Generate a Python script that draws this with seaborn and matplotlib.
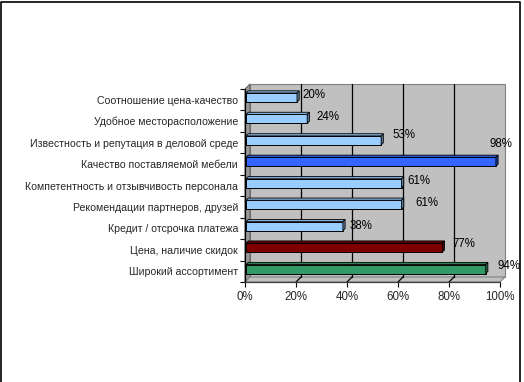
import numpy as np
import pandas as pd
import matplotlib
matplotlib.use('Agg')
import matplotlib.pyplot as plt
import matplotlib.ticker as mtick
from matplotlib.patches import Polygon, Rectangle
from matplotlib.lines import Line2D
import seaborn as sns

categories = ['Соотношение цена-качество',
              'Удобное месторасположение',
              'Известность и репутация в деловой среде',
              'Качество поставляемой мебели',
              'Компетентность и отзывчивость персонала',
              'Рекомендации партнеров, друзей',
              'Кредит / отсрочка платежа',
              'Цена, наличие скидок',
              'Широкий ассортимент']
values = [20, 24, 53, 98, 61, 61, 38, 77, 94]
bar_colors = ['#99CCFF', '#99CCFF', '#99CCFF', '#3366FF', '#99CCFF',
              '#99CCFF', '#99CCFF', '#800000', '#339966']
xticks = [0, 20, 40, 60, 80, 100]

# label nudges (pixels) to mimic the excel 3d label placement
lbl_dx = [6, 10, 12, -5, 7, 15, 8, 11, 13]
lbl_dy = [4.7, 4, 7.5, 20, 4.5, 4, 2.3, 6, 5]

df = pd.DataFrame({'cat': categories, 'val': values})

sns.set_style('white')
plt.rcParams['font.family'] = ['Liberation Sans', 'DejaVu Sans']

W, H = 524, 382
fig = plt.figure(figsize=(W / 100, H / 100), dpi=100)
# front plane of the 3d box: x 245..500 px, y 89..282 px (from top)
ax = fig.add_axes([245 / W, (H - 282) / H, 255 / W, 193 / H])

PX_X = 255 / 100.0
PX_Y = 193 / 9.0
dxw = 5 / PX_X   # wall depth in data units
dyw = 5 / PX_Y

sns.barplot(data=df, y='cat', x='val', hue='cat', palette=bar_colors,
            orient='h', width=0.42, legend=False, ax=ax,
            edgecolor='black', linewidth=0.7, saturation=1, zorder=5)

ax.set_xlim(0, 100)
ax.set_ylim(8.5, -0.5)
ax.patch.set_visible(False)
for s in ax.spines.values():
    s.set_visible(False)

# walls and floor
ax.add_patch(Rectangle((dxw, -0.5 - dyw), 100, 9, fc='#C0C0C0', ec='#808080',
                       lw=0.8, zorder=0, clip_on=False))
ax.add_patch(Polygon([(0, -0.5), (dxw, -0.5 - dyw), (dxw, 8.5 - dyw), (0, 8.5)],
                     closed=True, fc='#9A9A9A', ec='#606060', lw=0.8,
                     zorder=1, clip_on=False))
ax.add_patch(Polygon([(0, 8.5), (dxw, 8.5 - dyw), (100 + dxw, 8.5 - dyw), (100, 8.5)],
                     closed=True, fc='#C0C0C0', ec='#808080', lw=0.8,
                     zorder=1, clip_on=False))
for v in xticks[1:-1]:
    ax.plot([v + dxw, v + dxw], [-0.5 - dyw, 8.5 - dyw], color='black',
            lw=0.9, zorder=2, clip_on=False)
    ax.plot([v, v + dxw], [8.5, 8.5 - dyw], color='black', lw=0.9,
            zorder=2, clip_on=False)
ax.plot([0, 0], [-0.5, 8.5], color='black', lw=0.9, zorder=3, clip_on=False)
ax.plot([0, 100], [8.5, 8.5], color='#404040', lw=0.9, zorder=3, clip_on=False)

# 3d faces for the bars
dbx = 2.2 / PX_X
dby = 2.2 / PX_Y
for p, c in zip(ax.patches[:len(values)], bar_colors):
    p.set_x(1 / PX_X)
    p.set_y(p.get_y() - 2.2 / PX_Y)
    x0 = p.get_x()
    x1 = x0 + p.get_width()
    y0 = p.get_y()
    y1 = y0 + p.get_height()
    rgb = np.array(matplotlib.colors.to_rgb(c))
    ax.add_patch(Polygon([(x0, y0), (x0 + dbx, y0 - dby), (x1 + dbx, y0 - dby), (x1, y0)],
                         closed=True, fc=rgb * 0.85, ec='black', lw=0.6,
                         zorder=6, clip_on=False))
    ax.add_patch(Polygon([(x1, y0), (x1 + dbx, y0 - dby), (x1 + dbx, y1 - dby), (x1, y1)],
                         closed=True, fc=rgb * 0.6, ec='black', lw=0.6,
                         zorder=6, clip_on=False))

for i, v in enumerate(values):
    ax.annotate(f'{v}%', (v, i), xytext=(lbl_dx[i], lbl_dy[i]),
                textcoords='offset pixels', ha='left', va='center',
                fontsize=8.3, color='black', zorder=7)

ax.set_xticks(xticks)
ax.xaxis.set_major_formatter(mtick.StrMethodFormatter('{x:.0f}%'))
ax.set_yticks(range(len(categories)))
ax.set_yticklabels(categories)
ax.yaxis.set_minor_locator(mtick.FixedLocator(np.arange(-0.5, 9, 1)))
ax.tick_params(axis='y', which='major', length=0, pad=5, labelsize=7.6)
ax.tick_params(axis='y', which='minor', length=3.6, width=0.8, color='black', left=True)
ax.tick_params(axis='x', length=3.6, width=0.8, color='black', bottom=True,
               pad=3, labelsize=8.3)
ax.set_xlabel('')
ax.set_ylabel('')

# outer chart frame
fig.add_artist(Line2D([1 / W, 1 / W, 520 / W, 520 / W],
                      [-0.01, 1 - 2 / H, 1 - 2 / H, -0.01],
                      transform=fig.transFigure, color='black', lw=1.2))

fig.savefig('out.png', dpi=100)
